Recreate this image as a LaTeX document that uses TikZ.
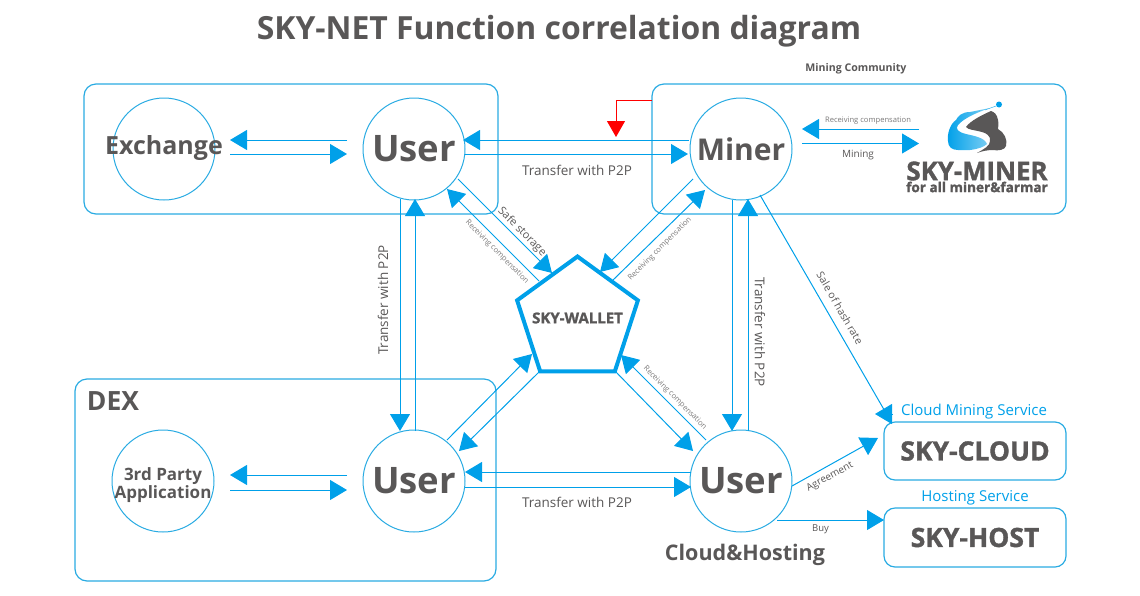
\documentclass[tikz,border=0pt]{standalone}
\usepackage{fontspec}
\usepackage{tikz}
\usetikzlibrary{shapes,arrows.meta,positioning,calc}
\setmainfont{Open Sans}
\newfontfamily\logofont{Open Sans}[BoldFeatures={FakeBold=1.4}]
\definecolor{skyblue}{HTML}{00A0E9}
\definecolor{skyline}{HTML}{29ABE2}
\definecolor{skygrey}{HTML}{595757}

\tikzset{
	flow/.style={draw=skyblue,line width=1pt,-{Triangle[length=17pt,width=20pt]}},
	plainflow/.style={draw=skyblue,line width=1pt},
	groupbox/.style={draw=skyline,line width=1.2pt,rounded corners=12pt,inner sep=0pt},
	servicebox/.style={draw=skyline,line width=1.2pt,rounded corners=11pt,inner sep=0pt,minimum width=182pt,text=skygrey,font=\logofont\bfseries\fontsize{26.5}{26.5}\selectfont},
	party/.style={circle,draw=skyline,line width=1pt,inner sep=0pt,minimum size=102pt,text=skygrey,font=\bfseries\fontsize{36.5}{36.5}\selectfont},
	partyname/.style={text=skygrey,inner sep=0pt,align=center},
	note/.style={text=skygrey,inner sep=0pt},
	tinynote/.style={text=skygrey!80,inner sep=0pt,font=\fontsize{7.6}{8}\selectfont},
	service/.style={text=skyblue,inner sep=0pt,font=\fontsize{15}{15}\selectfont},
	p2pnote/.style={note,font=\fontsize{13.5}{14}\selectfont},
}

\begin{document}
\begin{tikzpicture}[x=1pt,y=-1pt]
	\useasboundingbox (0,0) rectangle (1140,595);

	% group frames
	\node[groupbox,minimum width=414pt,minimum height=130pt] (exchbox) at (291,149) {};
	\node[groupbox,minimum width=414pt,minimum height=130pt] (minebox) at (859,149) {};
	\node[groupbox,minimum width=421pt,minimum height=202pt] (dexbox) at (285.5,480) {};

	\node[service] (cloudlabel) at (974,412) {Cloud Mining Service};
	\node[service] (hostlabel) at (975,498) {Hosting Service};
	\node[servicebox,minimum height=58pt] (cloud) at (975,451) {SKY-CLOUD};
	\node[servicebox,minimum height=59pt] (host) at (975,537.5) {SKY-HOST};

	% parties
	\node[party,label={[partyname,font=\bfseries\fontsize{25}{25}\selectfont,yshift=1pt]center:Exchange}] (exch) at (164,149) {};
	\node[party] (userA) at (414,149) {User};
	\node[party,font=\bfseries\fontsize{30}{30}\selectfont] (miner) at (741,149) {Miner};
	\node[party,label={[partyname,font=\bfseries\fontsize{17}{18.5}\selectfont,yshift=-4pt]center:3rd Party\\Application}] (third) at (163,481) {};
	\node[party] (userC) at (414,481) {User};
	\node[party] (userD) at (741,481) {User};

	\node[regular polygon,regular polygon sides=5,draw=skyblue,line width=4pt,minimum size=127pt,inner sep=0pt,label={[partyname,font=\logofont\bfseries\fontsize{15}{15}\selectfont,yshift=2pt]center:SKY-WALLET}] (wallet) at (577.5,320) {};

	% logo
	\begin{scope}
		\fill[skygrey] (991,111) .. controls (994,112) and (997,114) .. (998,120) .. controls (999,124) and (998,127) .. (998,129) .. controls (1004,132) and (1008,140) .. (1006,146) .. controls (1005,150) and (998,151) .. (993,150) .. controls (988,150) and (982,151) .. (977,153) .. controls (984,149) and (990,146) .. (990,141) .. controls (991,136) and (986,133) .. (982,132) .. controls (975,130) and (968,130) .. (966,127) .. controls (970,121) and (982,115) .. (991,111) -- cycle;
		\shade[left color=skyblue,right color=skyblue!50] (990,108) .. controls (980,110) and (975,111) .. (970,112) .. controls (962,112) and (958,116) .. (956,120) .. controls (950,124) and (947,134) .. (948,141) .. controls (948,147) and (952,150) .. (958,150) -- (970,150) .. controls (978,149) and (984,147) .. (987,144) .. controls (985,138) and (975,136) .. (966,134) .. controls (958,132) and (955,129) .. (958,125) .. controls (964,118) and (978,112) .. (990,108) -- cycle;
		\draw[skyblue,line width=.4pt] (985,110) -- (996,106);
		\fill[skyblue] (999,104.5) circle (3);
	\end{scope}
	\node[note,font=\logofont\bfseries\fontsize{25.8}{26}\selectfont] (skyminer) at (977,171) {SKY-MINER};
	\node[note,font=\logofont\bfseries\fontsize{13.6}{14}\selectfont] (farmer) at (977,187) {for all miner\&farmar};

	% connectors
	\draw[flow] ([shift={(-67,-9)}]userA.center) -- ([shift={(66,-9)}]exch.center);
	\draw[flow] ([shift={(66,5)}]exch.center) -- ([shift={(-67,5)}]userA.center);
	\draw[flow] ([shift={(-52,-9)}]miner.center) -- ([shift={(49,-9)}]userA.center);
	\draw[flow] ([shift={(51,5)}]userA.center) -- ([shift={(-53,5)}]miner.center);
	\draw[flow] ([shift={(-58,-42)}]skyminer.center) -- ([shift={(61,-20)}]miner.center);
	\draw[flow] ([shift={(61,-5.5)}]miner.center) -- ([shift={(-58,-27.5)}]skyminer.center);

	\draw[flow] ([shift={(-14,50)}]userA.center) -- ([shift={(-14,-50)}]userC.center);
	\draw[flow] ([shift={(1,-50)}]userC.center) -- ([shift={(1,50)}]userA.center);
	\draw[flow] ([shift={(-9,51)}]miner.center) -- ([shift={(-9,-50)}]userD.center);
	\draw[flow] ([shift={(7,-50)}]userD.center) -- ([shift={(7,50)}]miner.center);

	\draw[flow] ([shift={(-50,-9)}]userD.center) -- ([shift={(51,-9)}]userC.center);
	\draw[flow] ([shift={(51,6)}]userC.center) -- ([shift={(-50,6)}]userD.center);
	\draw[flow] ([shift={(-67,-6)}]userC.center) -- ([shift={(67,-6)}]third.center);
	\draw[flow] ([shift={(67,9)}]third.center) -- ([shift={(-67,9)}]userC.center);

	\draw[flow] ([shift={(44,30)}]userA.center) -- ([shift={(-25.5,-47)}]wallet.center);
	\draw[flow] ([shift={(-38.5,-39)}]wallet.center) -- ([shift={(33,40)}]userA.center);
	\draw[flow] ([shift={(-48,30)}]miner.center) -- ([shift={(22.5,-48)}]wallet.center);
	\draw[flow] ([shift={(35.5,-40)}]wallet.center) -- ([shift={(-36,41)}]miner.center);
	\draw[flow] ([shift={(38.5,52)}]wallet.center) -- ([shift={(-48,-30)}]userD.center);
	\draw[flow] ([shift={(-35,-41)}]userD.center) -- ([shift={(43.5,35)}]wallet.center);
	\draw[flow] ([shift={(33,-41)}]userC.center) -- ([shift={(-45.5,34)}]wallet.center);
	\draw[flow] ([shift={(-38.5,52)}]wallet.center) -- ([shift={(45,-30)}]userC.center);

	\draw[plainflow] ([shift={(19,46)}]miner.center) -- ([shift={(-85,-31)}]cloud.center);
	\draw[flow] ([shift={(-83,-37)}]cloud.center) -- ([shift={(-100,-37)}]cloud.center);
	\draw[flow] ([shift={(51,5)}]userD.center) -- ([shift={(-97,-13)}]cloud.center);
	\draw[flow] ([shift={(36,39)}]userD.center) -- ([shift={(-91,-17.5)}]host.center);

	\draw[red,line width=1pt,-{Triangle[length=16pt,width=18pt]}] ([shift={(-207,-49)}]minebox.center) -- ++(-36,0) -- ++(0,37);

	% labels
	\node[note,font=\bfseries\fontsize{31.9}{32}\selectfont] (title) at (559,31) {SKY-NET Function correlation diagram};
	\node[note,font=\bfseries\fontsize{10.6}{11}\selectfont] (community) at (856,69) {Mining Community};
	\node[note,font=\bfseries\fontsize{26.5}{27}\selectfont] (dexlabel) at (113,401) {DEX};
	\node[note,font=\bfseries\fontsize{21.5}{22}\selectfont] (hostinglabel) at (745,555) {Cloud\&Hosting};

	\node[p2pnote] (ptop) at (577,170) {Transfer with P2P};
	\node[p2pnote] (pbottom) at (577,502) {Transfer with P2P};
	\node[p2pnote,rotate=90] (pleft) at (383,300) {Transfer with P2P};
	\node[p2pnote,rotate=-90] (pright) at (760,332) {Transfer with P2P};

	\node[note,rotate=-45,font=\fontsize{11}{11}\selectfont] (safe) at (522,232) {Safe storage};
	\node[tinynote,rotate=-45] (recvA) at (497,252) {Receiving compensation};
	\node[tinynote,rotate=45] (recvB) at (660,249) {Receiving compensation};
	\node[tinynote,rotate=-45] (recvC) at (675,398) {Receiving compensation};
	\node[tinynote] (recvD) at (868,121) {Receiving compensation};
	\node[note,font=\fontsize{10}{10}\selectfont] (mining) at (858,155) {Mining};
	\node[note,rotate=-60,font=\fontsize{10.5}{11}\selectfont] (sale) at (840,308) {Sale of hash rate};
	\node[note,rotate=29,font=\fontsize{10}{10}\selectfont] (agree) at (830,477) {Agreement};
	\node[note,font=\fontsize{9.5}{10}\selectfont] (buy) at (820.5,529) {Buy};
\end{tikzpicture}
\end{document}
